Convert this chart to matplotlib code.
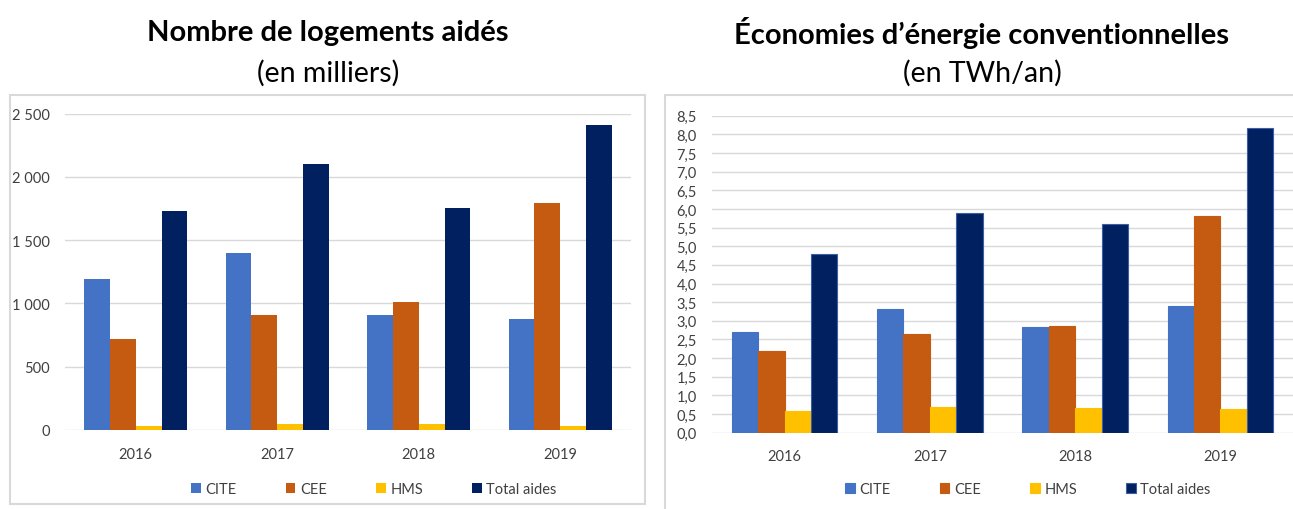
import numpy as np
import matplotlib
matplotlib.use("Agg")
import matplotlib.pyplot as plt
from matplotlib.ticker import FuncFormatter, MultipleLocator
from matplotlib.patches import Rectangle

plt.rcParams['font.family'] = ['Lato', 'DejaVu Sans']

years = ["2016", "2017", "2018", "2019"]
series = ["CITE", "CEE", "HMS", "Total aides"]
colors = ["#4472C4", "#C55A11", "#FFC000", "#002060"]

# Nombre de logements aidés (milliers)
logements = {
    "CITE": [1195, 1397, 911, 875],
    "CEE": [717, 911, 1009, 1792],
    "HMS": [35, 45, 45, 35],
    "Total aides": [1729, 2103, 1753, 2411],
}

# Economies d'énergie (TWh/an)
energie = {
    "CITE": [2.71, 3.31, 2.83, 3.40],
    "CEE": [2.20, 2.64, 2.87, 5.80],
    "HMS": [0.57, 0.68, 0.66, 0.64],
    "Total aides": [4.78, 5.88, 5.59, 8.17],
}

W, H = 1293, 510
fig = plt.figure(figsize=(W / 100, H / 100), dpi=100)


def px_axes(x0, y0, x1, y1):
    return fig.add_axes([x0 / W, 1 - y1 / H, (x1 - x0) / W, (y1 - y0) / H])


def draw_panel(ax, data, ymax, step, fmt, edge):
    x = np.arange(len(years))
    bw = 0.182
    for i, s in enumerate(series):
        ec = "#3A5FA8" if (edge and s == "Total aides") else colors[i]
        ax.bar(x + (i - 1.5) * bw, data[s], bw, color=colors[i],
               edgecolor=ec, linewidth=0.8 if edge else 0, zorder=3, label=s)
    ax.set_xlim(-0.5, len(years) - 0.5)
    ax.set_ylim(0, ymax)
    ax.yaxis.set_major_locator(MultipleLocator(step))
    ax.yaxis.set_major_formatter(FuncFormatter(fmt))
    ax.grid(axis="y", color="#D9D9D9", linewidth=1, zorder=0)
    ax.set_xticks(x)
    ax.set_xticklabels(years)
    ax.tick_params(length=0, labelsize=10.5, colors="#404040")
    ax.tick_params(axis="y", pad=11)
    ax.tick_params(axis="x", pad=12)
    for sp in ax.spines.values():
        sp.set_visible(False)
    ax.patch.set_alpha(0)


# panel frames
fig.patches.append(Rectangle((10 / W, 1 - 505 / H), 635 / W, 409 / H,
                             transform=fig.transFigure, fill=False,
                             edgecolor="#D9D9D9", linewidth=1.5))
fig.patches.append(Rectangle((665 / W, 1 - 512 / H), 640 / W, 416 / H,
                             transform=fig.transFigure, fill=False,
                             edgecolor="#D9D9D9", linewidth=1.5))

ax1 = px_axes(65, 114.7, 631, 431)
draw_panel(ax1, logements, 2500, 500,
           lambda v, p: f"{int(v):,}".replace(",", " "), False)

ax2 = px_axes(712, 116.7, 1293, 433.7)
draw_panel(ax2, energie, 8.5, 0.5,
           lambda v, p: f"{v:.1f}".replace(".", ","), True)

for ax, cx in ((ax1, 374), (ax2, 1028)):
    h, l = ax.get_legend_handles_labels()
    fig.legend(h, l, loc="center", bbox_to_anchor=(cx / W, 1 - 490 / H),
               ncol=4, frameon=False, fontsize=10.5, handlelength=0.65,
               handleheight=0.65, handletextpad=0.3, columnspacing=3.4,
               labelcolor="#404040")

fig.text(328 / W, 1 - 33 / H, "Nombre de logements aidés", ha="center",
         va="center", fontsize=21, fontweight="bold", color="black")
fig.text(328 / W, 1 - 73 / H, "(en milliers)", ha="center", va="center",
         fontsize=20.5, color="black")
fig.text(982 / W, 1 - 33 / H, "Économies d’énergie conventionnelles",
         ha="center", va="center", fontsize=21, fontweight="bold",
         color="black")
fig.text(982 / W, 1 - 73 / H, "(en TWh/an)", ha="center", va="center",
         fontsize=20.5, color="black")

fig.savefig("out.png", dpi=100)
